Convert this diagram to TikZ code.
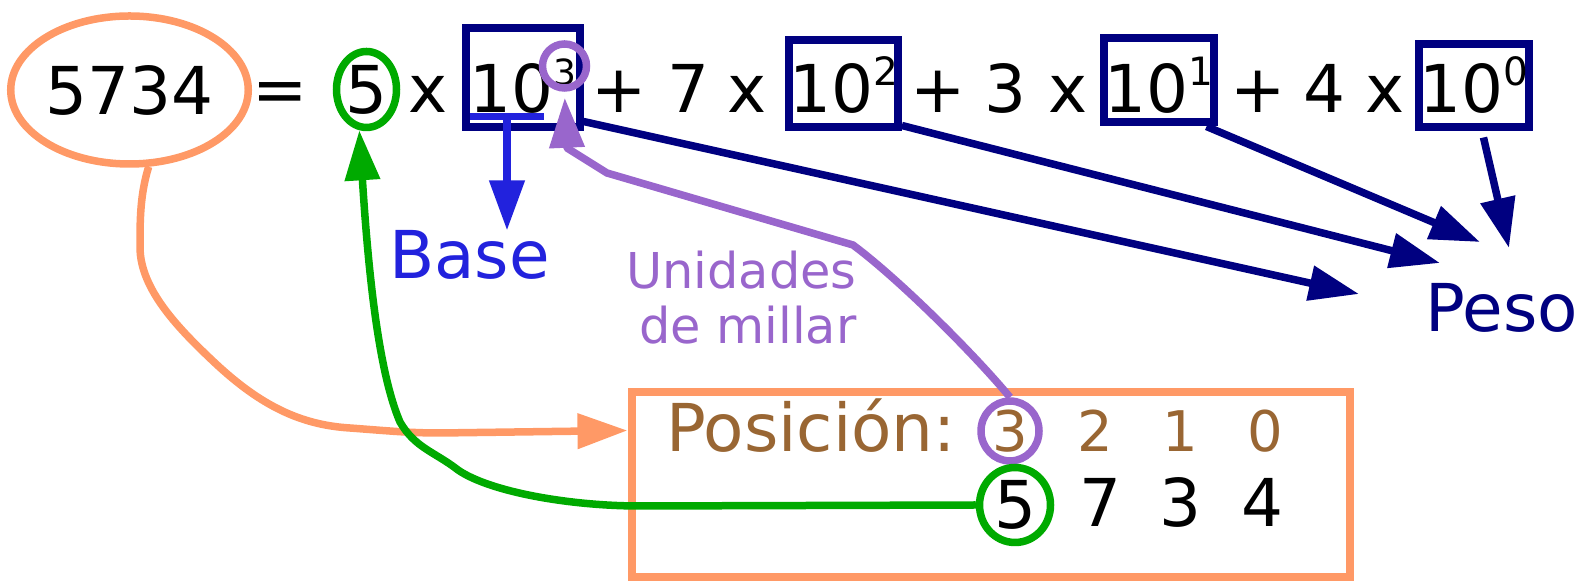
\documentclass[tikz,border=0pt]{standalone}
\usepackage{fontspec}
\setmainfont{DejaVu Sans}
\usepackage{tikz}
\usetikzlibrary{arrows.meta,positioning,calc,shapes.geometric}
\definecolor{inkOrange}{RGB}{255, 153, 102}
\definecolor{inkNavy}{RGB}{0, 0, 128}
\definecolor{inkGreen}{RGB}{0, 170, 0}
\definecolor{inkPurple}{RGB}{153, 102, 204}
\definecolor{inkBlue}{RGB}{34, 34, 221}
\definecolor{inkBrown}{RGB}{153, 102, 51}
\newcommand{\expo}[2][19.5pt]{\raisebox{13.5pt}{\fontsize{#1}{#1}\selectfont #2}}

\begin{document}
\begin{tikzpicture}[x=0.5pt, y=-0.5pt,
    numText/.style={inner sep=0pt, anchor=base, font=\fontsize{33pt}{40pt}\selectfont},
    digText/.style={inner sep=0pt, anchor=base, text=inkBrown, font=\fontsize{28pt}{32pt}\selectfont},
    powBox/.style={draw=inkNavy, line width=4pt, inner sep=0pt, anchor=base, font=\fontsize{33pt}{40pt}\selectfont},
    ring/.style={ellipse, draw=#1, line width=3.75pt, inner sep=0pt},
    bigTip/.style={-{Triangle[length=25pt, width=17pt]}},
    navyArrow/.style={draw=inkNavy, line width=3.75pt, bigTip}]
    \useasboundingbox (0,0) rectangle (1576,581);

    % top row: 5734 = 5 x 10^3 + ...
    \node[ring=inkOrange, minimum width=112pt, minimum height=74pt, font=\fontsize{33pt}{40pt}\selectfont] (num) at (129.5,90) {5734};
    \node[ring=inkGreen, minimum width=30pt, minimum height=38pt, font=\fontsize{33pt}{40pt}\selectfont] (five) at (366.5,89.5) {5};
    \foreach \t/\px [count=\i] in {=/280, x/428, +/619.5, 7/688, x/747, +/938, 3/1005.5, x/1068, +/1258, 4/1324.5, x/1385.5}
        \node[numText] (op\i) at (\px,113) {\t};

    \node[powBox, minimum width=57pt, text height=42.25pt, text depth=7.25pt] (b3) at (522.5,113) {10\expo[18pt]{3}};
    \node[powBox, minimum width=53pt, text height=36.25pt, text depth=7.25pt] (b2) at (843.5,113) {10\expo{2}};
    \node[powBox, minimum width=55pt, text height=37.25pt, text depth=4.75pt] (b1) at (1158.5,113) {10\expo{1}};
    \node[powBox, minimum width=55pt, text height=34.25pt, text depth=7.25pt] (b0) at (1473.5,113) {10\expo{0}};
    \node[ring=inkPurple, circle, minimum size=22pt] (sup3) at (564.5,66) {};

    % base
    \draw[inkBlue, line width=3.75pt] (470,116.5) -- (544,116.5);
    \coordinate (ul) at (507,116.5);
    \node[numText, text=inkBlue] (base) at (469.5,279) {Base};
    \draw[inkBlue, line width=3.75pt, bigTip] (ul) -- (ul |- base.north);

    % peso
    \node[numText, text=inkNavy] (peso) at (1501.5,332) {Peso};
    \coordinate (e3) at (1359,294);
    \coordinate (e2) at (1440,263);
    \coordinate (e1) at (1480,242);
    \coordinate (e0) at (1509,248);
    \draw[navyArrow] ($(b3.south east)+(0,-10)$) -- (e3);
    \draw[navyArrow] ($(b2.south east)+(0,-6)$) -- (e2);
    \draw[navyArrow] ($(b1.south east)+(-11,0)$) -- (e1);
    \draw[navyArrow] ($(b0.south)+(10,6)$) -- (e0);

    % position box
    \node[draw=inkOrange, line width=4pt, minimum width=359.25pt, minimum height=92.25pt, inner sep=0pt] (pos) at (990.75,484.75) {};
    \node[numText, text=inkBrown] (poslabel) at (811,452) {Posición:};
    \node[ring=inkPurple, minimum width=29pt, minimum height=29.5pt, text=inkBrown, font=\fontsize{28pt}{32pt}\selectfont] (p3) at (1010,431) {3};
    \foreach \t/\px in {2/1095, 1/1180, 0/1265}
        \node[digText] (pos\t) at (\px,452) {\t};
    \node[ring=inkGreen, minimum width=35.5pt, minimum height=37.5pt, font=\fontsize{33pt}{40pt}\selectfont] (g5) at (1015,505) {5};
    \foreach \t/\px in {7/1100, 3/1180, 4/1262}
        \node[numText] (dig\t) at (\px,527) {\t};

    \node[inner sep=0pt, anchor=north east, align=right, text=inkPurple, font=\fontsize{24.7pt}{27.5pt}\selectfont] (millar) at (857,250.5) {Unidades\\de millar};

    % connectors
    \draw[inkOrange, line width=3.75pt, bigTip] (num.-76) .. controls (140,195) and (140,220) .. (140,247)
        .. controls (140,290) and (180,330) .. (215,363) .. controls (260,405) and (300,425) .. (350,428)
        .. controls (390,431) and (410,433) .. (440,433) -- ($(pos.north west)+(0,42)$);
    \draw[inkGreen, line width=3.75pt, bigTip] (g5.west) -- (640,506) .. controls (570,506) and (490,492) .. (458,470)
        .. controls (435,452) and (415,448) .. (400,422) .. controls (382,380) and (370,300) .. (five.-100);
    \draw[inkPurple, line width=3.75pt, bigTip, shorten >=3pt, line join=round] (p3.north) .. controls (975,355) and (900,280) .. (853,245)
        -- (607,173) -- (567,148) -- (sup3.south);
\end{tikzpicture}
\end{document}
